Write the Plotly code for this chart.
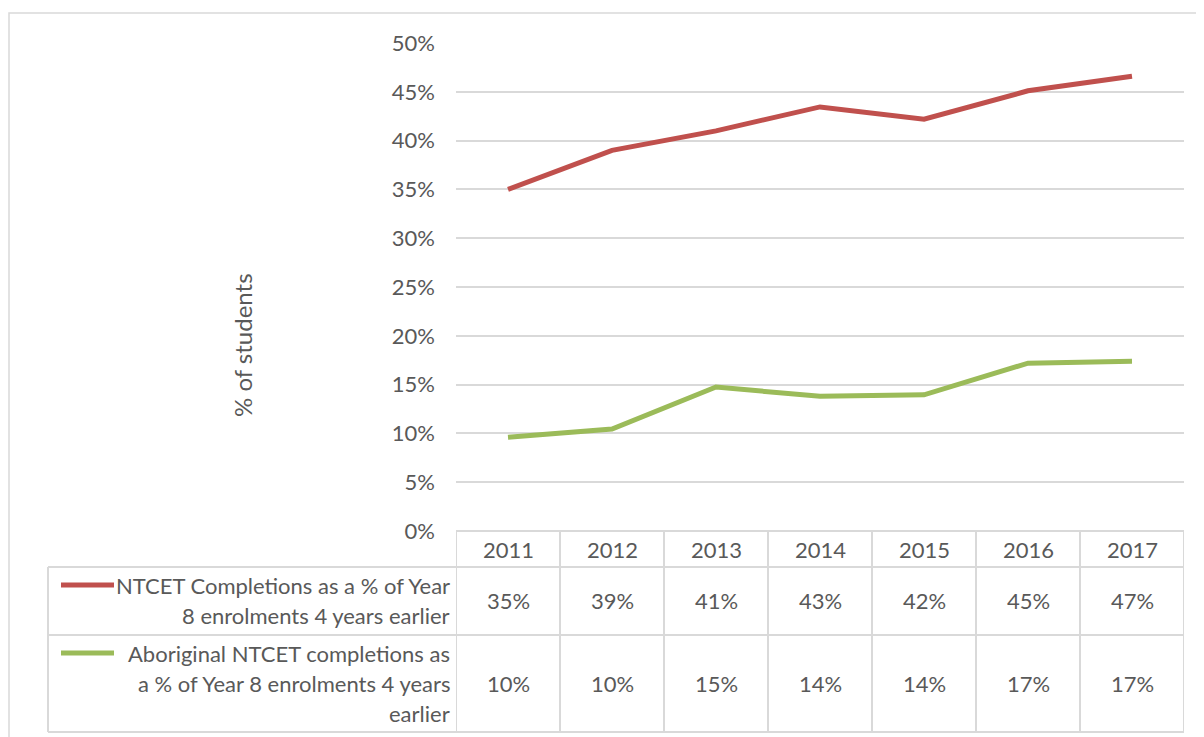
import plotly.graph_objects as go

years = [2011, 2012, 2013, 2014, 2015, 2016, 2017]
ntcet = [35.0, 39.0, 41.0, 43.45, 42.2, 45.1, 46.6]          # % of Year 8 enrolments
aboriginal = [9.6, 10.45, 14.75, 13.8, 13.95, 17.2, 17.4]    # % of Year 8 enrolments
series_names = [["NTCET Completions as a % of Year", "8 enrolments 4 years earlier"],
                ["Aboriginal NTCET completions as", "a % of Year 8 enrolments 4 years", "earlier"]]
colors = ["#C0504D", "#9BBB59"]

W, H = 1204, 737
OFF = 8          # page body margin
FONT = "Lato"
FS = 22
TXT = "#595959"
GRID = "#d9d9d9"

def px(x):  # screen pixel -> paper x
    return (x - OFF) / W

def py(y):  # screen pixel -> paper y
    return 1 - (y - OFF) / H

fig = go.Figure()
for vals, c in zip([ntcet, aboriginal], colors):
    fig.add_trace(go.Scatter(x=years, y=vals, mode="lines",
                             line=dict(color=c, width=5), showlegend=False))

shapes = []
annots = []

# outer chart border
shapes.append(dict(type="rect", xref="paper", yref="paper", x0=px(9), x1=px(1215),
                   y0=py(13), y1=py(760), line=dict(color=GRID, width=1.5)))

# data table grid
for yy in [567, 635, 732]:
    shapes.append(dict(type="line", xref="paper", yref="paper", x0=px(48), x1=px(1184),
                       y0=py(yy), y1=py(yy), line=dict(color=GRID, width=2)))
shapes.append(dict(type="line", xref="x", yref="paper", x0=years[0] - 0.5, x1=years[-1] + 0.5,
                   y0=py(531), y1=py(531), line=dict(color=GRID, width=2)))
shapes.append(dict(type="line", xref="paper", yref="paper", x0=px(48), x1=px(48),
                   y0=py(567), y1=py(732), line=dict(color=GRID, width=2)))
for b in [years[0] - 0.5] + [yr + 0.5 for yr in years]:
    shapes.append(dict(type="line", xref="x", yref="paper", x0=b, x1=b,
                       y0=py(531), y1=py(732), line=dict(color=GRID, width=2)))

def label(x, xref, y, text, **kw):
    d = dict(x=x, xref=xref, y=y, yref="paper", text=text, showarrow=False,
             xanchor="center", yanchor="middle",
             font=dict(size=FS, color=TXT, family=FONT))
    d.update(kw)
    return d

# header years
for yr in years:
    annots.append(label(yr, "x", py(549), str(yr)))

# rows: legend key + values
row_mid = [600, 683]
line_gap = 30
for vals, lines, c, ym in zip([ntcet, aboriginal], series_names, colors, row_mid):
    top = ym - (len(lines) - 1) / 2 * line_gap
    shapes.append(dict(type="line", xref="paper", yref="paper", x0=px(61), x1=px(114),
                       y0=py(top), y1=py(top), line=dict(color=c, width=5)))
    for i, ln in enumerate(lines):
        annots.append(label(px(452), "paper", py(top + i * line_gap), ln, xanchor="right"))
    for yr, v in zip(years, vals):
        annots.append(label(yr, "x", py(ym), f"{round(v)}%"))

# y-axis title
annots.append(label(px(242), "paper", py(345), "% of students", textangle=-90,
                    font=dict(size=24, color=TXT, family=FONT)))

fig.update_layout(
    width=W, height=H,
    margin=dict(l=0, r=0, t=0, b=0),
    plot_bgcolor="white", paper_bgcolor="white",
    font=dict(family=FONT, color=TXT, size=FS),
    xaxis=dict(domain=[px(456), px(1184)], range=[2010.5, 2017.5], automargin=False,
               showticklabels=False, showgrid=False, zeroline=False, showline=False),
    yaxis=dict(domain=[py(531), py(43)], range=[0, 50], dtick=5, ticksuffix="%",
               automargin=False, gridcolor=GRID, gridwidth=1.5, zeroline=False,
               showline=False, ticks="", ticklabelstandoff=20,
               tickfont=dict(size=FS, color=TXT, family=FONT)),
    shapes=shapes,
    annotations=annots,
)

fig.write_html("out.html")
